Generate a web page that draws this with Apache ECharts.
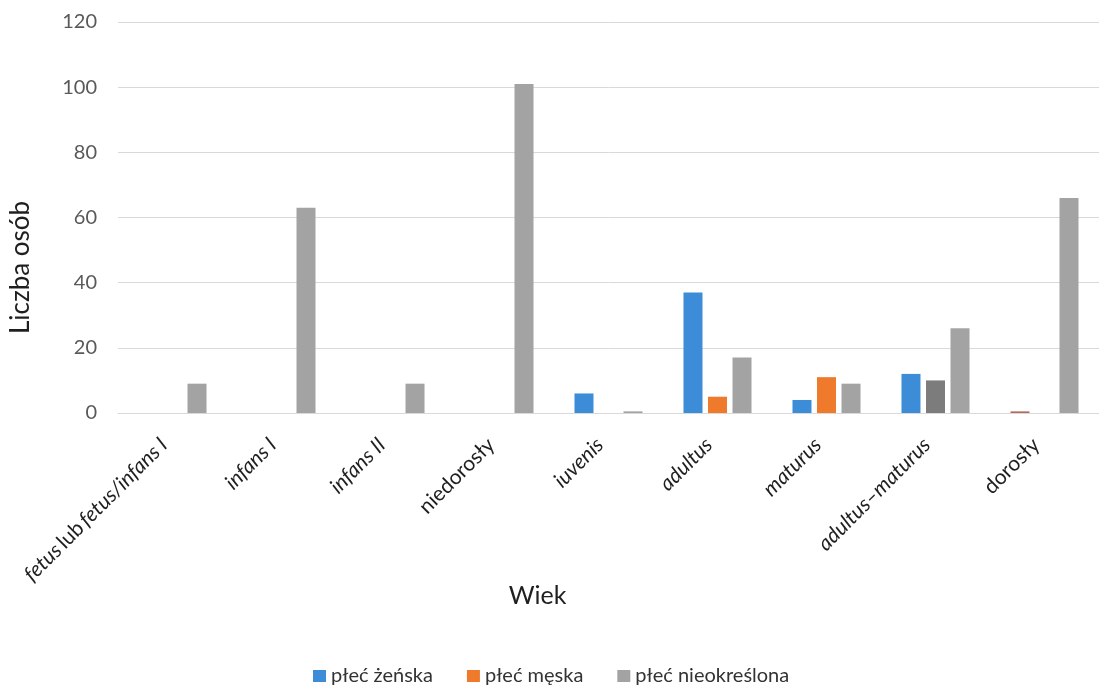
<!DOCTYPE html>
<html>
<head>
<meta charset="utf-8">
<script src="https://cdn.jsdelivr.net/npm/echarts@6/dist/echarts.min.js"></script>
<style>
  html, body { margin: 0; padding: 0; background: #ffffff; }
  #chart { width: 1099px; height: 686px; }
</style>
</head>
<body>
<div id="chart"></div>
<script>
// ---- data ----
const categories = ['fetus lub fetus/infans I', 'infans I', 'infans II', 'niedorosły', 'iuvenis', 'adultus', 'maturus', 'adultus–maturus', 'dorosły'];
const seriesNames = ['płeć żeńska', 'płeć męska', 'płeć nieokreślona'];
const femaleValues = [0, 0, 0, 0, 6, 37, 4, 12, 0.5];
const maleValues = [0, 0, 0, 0, 0, 5, 11, 10, 0];
const undeterminedValues = [9, 63, 9, 101, 0.5, 17, 9, 26, 66];
const yMin = 0, yMax = 120, yStep = 20;
const xTitle = 'Wiek';
const yTitle = 'Liczba osób';

// ---- styling ----
const FONT = 'Lato, "Open Sans", sans-serif';
const colors = ['#3d8cd8', '#ef7a2c', '#a3a3a3'];
const uprightLabels = ['niedorosły', 'dorosły'];

function catLabel(v) {
  if (v === categories[0]) return '{i|fetus} {n|lub} {i|fetus/infans I}';
  if (uprightLabels.indexOf(v) >= 0) return '{n|' + v + '}';
  return '{i|' + v + '}';
}

const maleData = maleValues.map((v, i) =>
  (categories[i] === 'adultus–maturus') ? { value: v, itemStyle: { color: '#7c7c7c' } } : v);
const femaleData = femaleValues.map((v, i) =>
  (categories[i] === 'dorosły') ? { value: v, itemStyle: { color: '#b5695c' } } : v);

const chart = echarts.init(document.getElementById('chart'), null, { renderer: 'canvas' });
chart.setOption({
  backgroundColor: '#ffffff',
  animation: false,
  color: colors,
  textStyle: { fontFamily: FONT },
  grid: { left: 118, top: 22, width: 987, bottom: 273, containLabel: false },
  legend: {
    data: seriesNames,
    left: 308,
    top: 661,
    itemWidth: 13,
    itemHeight: 12,
    itemGap: 34,
    icon: 'rect',
    textStyle: { fontFamily: FONT, fontSize: 20, color: '#333333' }
  },
  xAxis: {
    type: 'category',
    data: categories,
    name: xTitle,
    nameLocation: 'middle',
    nameGap: 170,
    nameMoveOverlap: false,
    nameTextStyle: { fontFamily: FONT, fontSize: 25, color: '#1f1f1f', padding: [0, 142, 0, 0] },
    axisLine: { show: true, lineStyle: { color: '#d9d9d9', width: 1 } },
    axisTick: { show: false },
    axisLabel: {
      interval: 0,
      rotate: 45,
      margin: 20,
      color: '#1f1f1f',
      formatter: catLabel,
      padding: [0, 12, 0, 0],
      rich: {
        i: { fontFamily: FONT, fontSize: 21, fontStyle: 'italic', color: '#1f1f1f' },
        n: { fontFamily: FONT, fontSize: 21, color: '#1f1f1f' }
      }
    }
  },
  yAxis: {
    type: 'value',
    min: yMin,
    max: yMax,
    interval: yStep,
    name: yTitle,
    nameLocation: 'middle',
    nameGap: 84,
    nameMoveOverlap: false,
    nameTextStyle: { fontFamily: FONT, fontSize: 26, color: '#1f1f1f', padding: [0, 100, 0, 0] },
    axisLine: { show: false },
    axisTick: { show: false },
    splitLine: { lineStyle: { color: '#d9d9d9', width: 1 } },
    axisLabel: { margin: 21, fontFamily: FONT, fontSize: 20, color: '#595959' }
  },
  series: [
    { name: seriesNames[0], type: 'bar', data: femaleData, barWidth: 19, barGap: '29%' },
    { name: seriesNames[1], type: 'bar', data: maleData, barWidth: 19, barGap: '29%' },
    { name: seriesNames[2], type: 'bar', data: undeterminedValues, barWidth: 19, barGap: '29%' }
  ]
});
</script>
</body>
</html>
